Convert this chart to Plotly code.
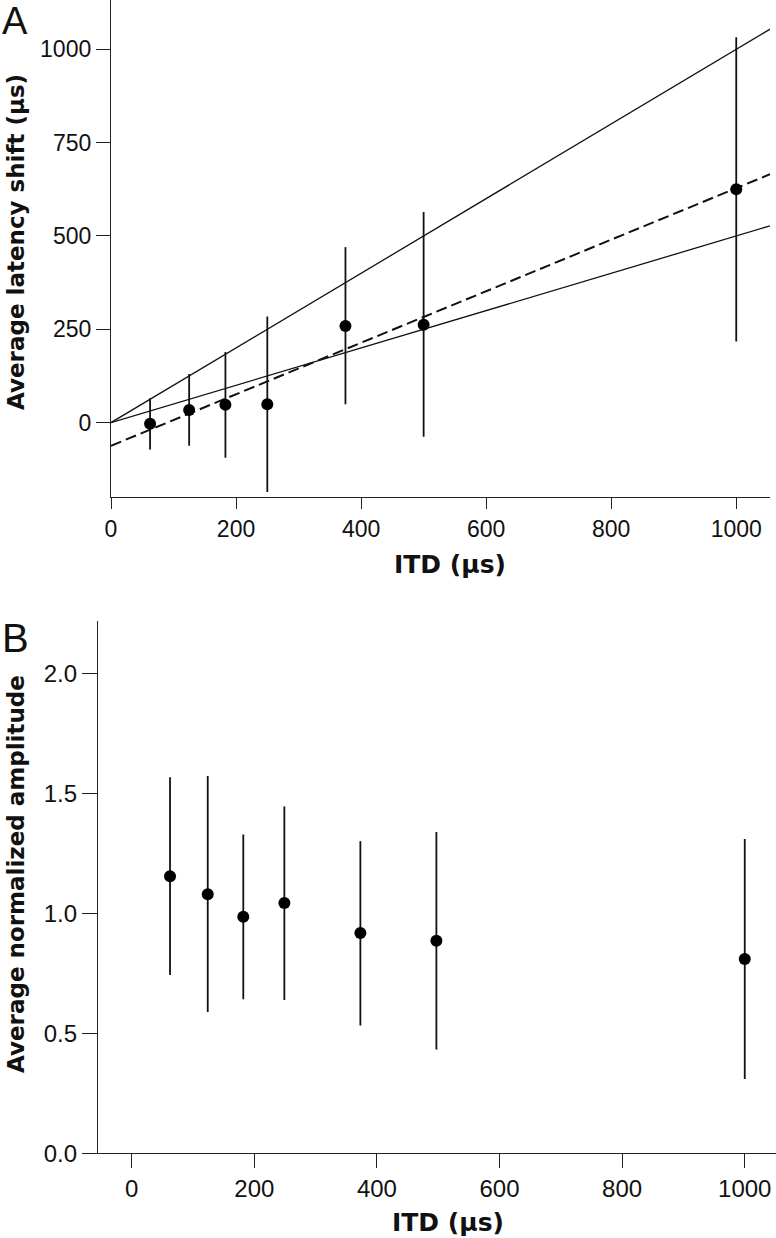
import plotly.graph_objects as go

# ---- data ----
itd_a = [62.5, 125, 183, 250, 375, 500, 1000]
latency = [-3, 34, 48, 49, 259, 262, 625]
latency_upper = [65, 130, 189, 284, 470, 564, 1032]
latency_lower = [-72, -62, -94, -186, 49, -38, 217]

itd_b = [62.5, 124, 182, 249, 373, 497, 1000]
amplitude = [1.155, 1.08, 0.986, 1.043, 0.918, 0.886, 0.81]
amplitude_upper = [1.567, 1.573, 1.329, 1.446, 1.301, 1.339, 1.31]
amplitude_lower = [0.743, 0.589, 0.642, 0.639, 0.533, 0.433, 0.31]

fit_x = [0, 1054]
unity_slope, unity_intercept = 1.0, 0.0
half_slope, half_intercept = 0.5, 0.0
reg_slope, reg_intercept = 0.69, -62.0

x_ticks = [0, 200, 400, 600, 800, 1000]
ya_ticks = [0, 250, 500, 750, 1000]
yb_ticks = [0.0, 0.5, 1.0, 1.5, 2.0]

W, H = 776, 1238
FONT = "Liberation Sans, Arial, sans-serif"
TITLE_FONT = "DejaVu Sans, Liberation Sans, sans-serif"

fig = go.Figure()

def line_y(slope, intercept):
    return [slope * x + intercept for x in fit_x]

fig.add_trace(go.Scatter(x=fit_x, y=line_y(unity_slope, unity_intercept), mode="lines",
                         line=dict(color="#111", width=1.3), xaxis="x", yaxis="y", showlegend=False))
fig.add_trace(go.Scatter(x=fit_x, y=line_y(half_slope, half_intercept), mode="lines",
                         line=dict(color="#111", width=1.3), xaxis="x", yaxis="y", showlegend=False))
fig.add_trace(go.Scatter(x=fit_x, y=line_y(reg_slope, reg_intercept), mode="lines",
                         line=dict(color="#111", width=2, dash="11px,5px"), xaxis="x", yaxis="y", showlegend=False))

fig.add_trace(go.Scatter(
    x=itd_a, y=latency, mode="markers",
    marker=dict(color="black", size=12),
    error_y=dict(type="data", symmetric=False,
                 array=[u - v for u, v in zip(latency_upper, latency)],
                 arrayminus=[v - l for v, l in zip(latency, latency_lower)],
                 color="#111", thickness=1.8, width=0),
    xaxis="x", yaxis="y", showlegend=False))

fig.add_trace(go.Scatter(
    x=itd_b, y=amplitude, mode="markers",
    marker=dict(color="black", size=12),
    error_y=dict(type="data", symmetric=False,
                 array=[u - v for u, v in zip(amplitude_upper, amplitude)],
                 arrayminus=[v - l for v, l in zip(amplitude, amplitude_lower)],
                 color="#111", thickness=1.8, width=0),
    xaxis="x2", yaxis="y2", showlegend=False))

def axis_common(size):
    return dict(showgrid=False, zeroline=False, showline=True, linecolor="#222", linewidth=1.3,
                ticks="outside", tickcolor="#222", tickwidth=1.3, automargin=False,
                tickfont=dict(family=FONT, size=size, color="#111"))

fig.update_layout(
    width=W, height=H,
    margin=dict(l=0, r=0, t=0, b=0, pad=0),
    paper_bgcolor="white", plot_bgcolor="white",
    hovermode=False,
    xaxis=dict(domain=[111 / W, 770 / W], range=[0, 1054], tickvals=x_ticks, ticklen=11,
               anchor="y", **axis_common(23)),
    yaxis=dict(domain=[1 - 497.3 / H, 1.0], range=[-200, 1132], tickvals=ya_ticks, ticklen=14,
               anchor="x", **axis_common(23)),
    xaxis2=dict(domain=[98 / W, 1.0], range=[-55, 1051], tickvals=x_ticks, ticklen=14,
                anchor="y2", **axis_common(24)),
    yaxis2=dict(domain=[1 - 1153.3 / H, 1 - 620.7 / H], range=[0, 2.22], tickvals=yb_ticks,
                tickformat=".1f", ticklen=15, anchor="x2", **axis_common(24)),
)

annots = [
    dict(text="A", x=0, y=-2, size=38, bold=False, font=FONT, angle=0, xanchor="left", yanchor="top"),
    dict(text="B", x=0, y=614, size=40, bold=False, font=FONT, angle=0, xanchor="left", yanchor="top"),
    dict(text="Average latency shift (µs)", x=16, y=242, size=23, bold=True, font=TITLE_FONT, angle=-90, xanchor="center", yanchor="middle"),
    dict(text="Average normalized amplitude", x=16, y=874, size=23, bold=True, font=TITLE_FONT, angle=-90, xanchor="center", yanchor="middle"),
    dict(text="ITD (µs)", x=450, y=564, size=25, bold=True, font=TITLE_FONT, angle=0, xanchor="center", yanchor="middle"),
    dict(text="ITD (µs)", x=448, y=1222, size=25, bold=True, font=TITLE_FONT, angle=0, xanchor="center", yanchor="middle"),
]
for a in annots:
    fig.add_annotation(
        text=("<b>%s</b>" % a["text"]) if a["bold"] else a["text"],
        x=a["x"] / W, y=1 - a["y"] / H, xref="paper", yref="paper",
        xanchor=a["xanchor"], yanchor=a["yanchor"], textangle=a["angle"],
        showarrow=False, font=dict(family=a["font"], size=a["size"], color="#111"))

fig.write_html("out.html", config={"displayModeBar": False},
               post_script="document.body.style.margin='0';document.body.style.overflow='hidden';")
